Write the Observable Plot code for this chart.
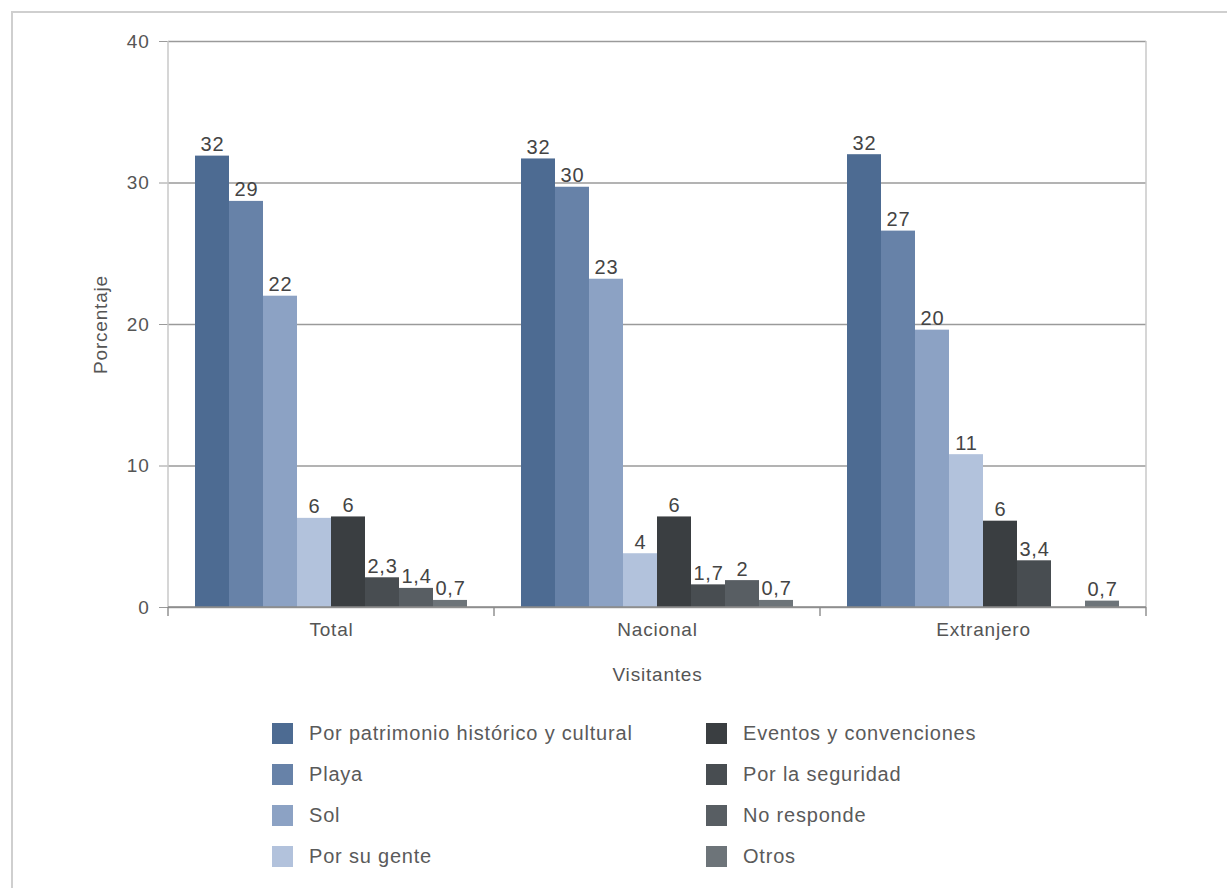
<!DOCTYPE html>
<html>
<head>
<meta charset="utf-8">
<script src="https://cdn.jsdelivr.net/npm/d3@7"></script>
<script src="https://cdn.jsdelivr.net/npm/@observablehq/plot@0.6"></script>
<style>
  html, body { margin: 0; padding: 0; background: #fff; }
  body { width: 1227px; height: 888px; position: relative; overflow: hidden; font-family: "Liberation Sans", Arial, sans-serif; }
  #outer { position: absolute; left: 11px; top: 11px; width: 1230px; height: 900px; border-left: 2px solid #cfcfcf; border-top: 2px solid #cfcfcf; box-sizing: border-box; }
  #chart { position: absolute; left: 0; top: 0; }
  #chart svg text { letter-spacing: 0.8px; }
  #legend { position: absolute; left: 272px; top: 723px; display: grid; grid-template-columns: 434px 300px; grid-auto-flow: column; grid-template-rows: repeat(4, 41px); }
  .item { display: flex; align-items: flex-start; font-size: 20px; letter-spacing: 0.8px; color: #5a5a5a; }
  .sw { width: 21px; height: 21px; margin-right: 16px; flex: none; }
  .item span { line-height: 21px; }
</style>
</head>
<body>
<div id="outer"></div>
<div id="chart"></div>
<div id="legend"></div>
<script>
// Data
const groups = ["Total", "Nacional", "Extranjero"];
const categories = [
  "Por patrimonio histórico y cultural",
  "Playa",
  "Sol",
  "Por su gente",
  "Eventos y convenciones",
  "Por la seguridad",
  "No responde",
  "Otros"
];
const colors = ["#4d6b92", "#6782a8", "#8ca2c4", "#b2c2dc", "#3a3e41", "#484d51", "#585e63", "#6d7479"];
// bar heights (null = no bar)
const totalValues      = [31.9, 28.7, 22.0, 6.3, 6.4, 2.1, 1.35, 0.5];
const nacionalValues   = [31.7, 29.7, 23.2, 3.8, 6.4, 1.6, 1.9, 0.5];
const extranjeroValues = [32.0, 26.6, 19.6, 10.8, 6.1, 3.3, null, 0.45];
// printed labels
const totalLabels      = ["32", "29", "22", "6", "6", "2,3", "1,4", "0,7"];
const nacionalLabels   = ["32", "30", "23", "4", "6", "1,7", "2", "0,7"];
const extranjeroLabels = ["32", "27", "20", "11", "6", "3,4", "", "0,7"];
const yTicks = [0, 10, 20, 30, 40];

const valuesByGroup = [totalValues, nacionalValues, extranjeroValues];
const labelsByGroup = [totalLabels, nacionalLabels, extranjeroLabels];
const data = [];
groups.forEach((g, gi) => categories.forEach((c, ci) => {
  const v = valuesByGroup[gi][ci];
  if (v != null) data.push({group: g, cat: c, value: v, label: labelsByGroup[gi][ci]});
}));

const chart = Plot.plot({
  width: 1227,
  height: 700,
  marginLeft: 167,
  marginRight: 81,
  marginTop: 41,
  marginBottom: 93,
  style: {fontFamily: "'Liberation Sans', Arial, sans-serif", fontSize: "19px", color: "#555", background: "transparent"},
  fx: {domain: groups, padding: 0},
  x: {domain: categories, paddingInner: 0, paddingOuter: 0.72, axis: null},
  y: {domain: [0, 40]},
  color: {domain: categories, range: colors},
  marks: [
    Plot.gridY(yTicks, {stroke: "#9a9a9a", strokeOpacity: 1, strokeWidth: 1.4}),
    Plot.axisY(yTicks, {tickSize: 9, tickPadding: 10, stroke: "#9a9a9a", fontSize: 19, fill: "#555", label: "Porcentaje", labelAnchor: "center", labelOffset: 75, labelArrow: "none"}),
    Plot.axisFx({anchor: "bottom", tickSize: 0, tickPadding: 15, fontSize: 19, fill: "#555", label: "Visitantes", labelAnchor: "center", labelOffset: 73, labelArrow: "none"}),
    Plot.barY(data, {fx: "group", x: "cat", y: "value", fill: "cat"}),
    Plot.text(data, {fx: "group", x: "cat", y: "value", text: "label", lineAnchor: "bottom", dy: -5, fontSize: 20, fill: "#444"})
  ]
});
document.getElementById("chart").appendChild(chart);

// frame and boundary ticks from the library's scales
const fx = chart.scale("fx"), y = chart.scale("y");
const svg = d3.select(chart);
const x0 = fx.apply(groups[0]);
const x1 = fx.apply(groups[groups.length - 1]) + fx.bandwidth;
const yTop = y.apply(40), yBot = y.apply(0);
const ov = svg.append("g").attr("stroke", "#c8c8c8").attr("fill", "none");
ov.append("line").attr("x1", x0).attr("x2", x0).attr("y1", yTop).attr("y2", yBot).attr("stroke-width", 1.5);
ov.append("line").attr("x1", x1).attr("x2", x1).attr("y1", yTop).attr("y2", yBot).attr("stroke-width", 1.5);
const bounds = groups.map(g => fx.apply(g)).concat([x1]);
const tk = svg.append("g").attr("stroke", "#8a8a8a");
bounds.forEach(b => tk.append("line").attr("x1", b).attr("x2", b).attr("y1", yBot).attr("y2", yBot + 9).attr("stroke-width", 1.4));
svg.append("line").attr("x1", x0).attr("x2", x1).attr("y1", yBot).attr("y2", yBot).attr("stroke", "#8a8a8a").attr("stroke-width", 1.4);

// legend
const legend = d3.select("#legend");
categories.forEach((c, i) => {
  const it = legend.append("div").attr("class", "item");
  it.append("div").attr("class", "sw").style("background", colors[i]);
  it.append("span").text(c);
});
</script>
</body>
</html>
